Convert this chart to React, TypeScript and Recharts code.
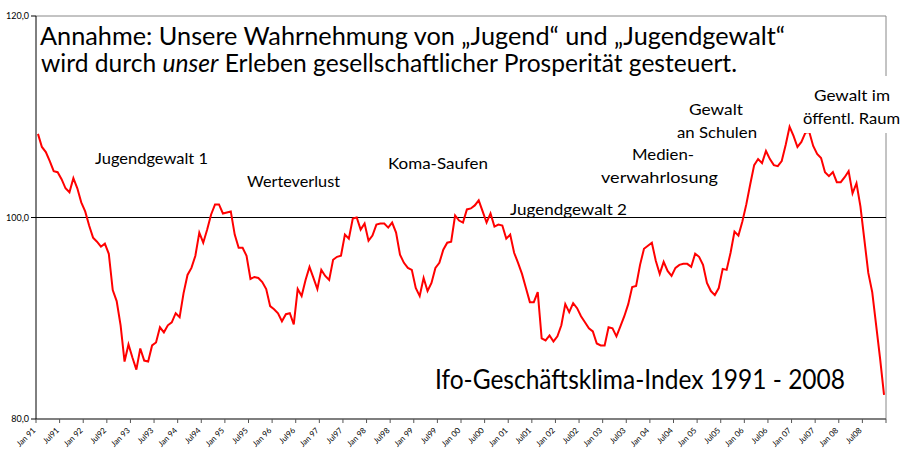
import React from 'react';
import { LineChart, Line, XAxis, YAxis, ReferenceLine } from 'recharts';

// Monthly Ifo business climate index, Jan 1991 - Dec 2008
const values: number[] = [
  108.3, 107.0, 106.5, 105.6, 104.6, 104.5, 103.8, 102.9, 102.5, 103.9, 102.9, 101.5,
  100.6, 99.2, 98.0, 97.6, 97.1, 97.4, 96.4, 92.8, 91.7, 89.3, 85.7, 87.4,
  86.1, 84.9, 87.0, 85.8, 85.7, 87.3, 87.6, 89.1, 88.6, 89.3, 89.6, 90.5,
  90.1, 92.5, 94.3, 95.0, 96.2, 98.5, 97.5, 98.8, 100.3, 101.3, 101.3, 100.4,
  100.5, 100.6, 98.3, 97.0, 97.0, 96.2, 93.9, 94.1, 94.0, 93.6, 92.9, 91.2,
  90.9, 90.5, 89.7, 90.4, 90.5, 89.4, 92.9, 92.2, 93.8, 95.1, 94.0, 92.9,
  94.8, 94.2, 93.8, 95.8, 96.1, 96.2, 98.3, 97.9, 99.9, 100.0, 98.8, 99.4,
  97.7, 98.2, 99.3, 99.4, 99.4, 99.0, 99.5, 98.5, 96.3, 95.5, 95.0, 94.8,
  93.0, 92.2, 94.0, 92.7, 93.5, 95.0, 95.5, 96.8, 97.5, 97.6, 100.2, 99.7,
  99.5, 100.8, 100.9, 101.2, 101.7, 100.6, 99.5, 100.4, 99.1, 99.3, 99.2, 97.9,
  98.3, 96.5, 95.5, 94.4, 93.0, 91.6, 91.6, 92.6, 88.0, 87.8, 88.3, 87.7,
  88.2, 89.3, 91.4, 90.6, 91.5, 91.0, 90.2, 89.6, 89.0, 88.7, 87.5, 87.3,
  87.3, 89.1, 89.0, 88.2, 89.2, 90.2, 91.4, 93.1, 93.2, 95.3, 96.9, 97.2,
  97.5, 95.7, 94.4, 95.6, 94.7, 94.2, 95.0, 95.3, 95.4, 95.4, 95.1, 96.4,
  96.1, 95.3, 93.5, 92.7, 92.3, 93.0, 94.9, 94.8, 96.5, 98.6, 98.2, 99.6,
  101.3, 103.3, 105.2, 105.8, 105.4, 106.6, 105.8, 105.2, 105.1, 105.6, 107.2, 109.0,
  108.1, 107.0, 107.5, 108.4, 108.5, 107.1, 106.3, 105.9, 104.5, 104.1, 104.5, 103.5,
  103.5, 104.0, 104.6, 102.4, 103.4, 101.1, 97.8, 94.5, 92.6, 89.3, 86.0, 82.4,
];

const tickLabels: string[] = [
  'Jan 91', 'Jul91', 'Jan 92', 'Jul92', 'Jan 93', 'Jul93', 'Jan 94', 'Jul94',
  'Jan 95', 'Jul95', 'Jan 96', 'Jul96', 'Jan 97', 'Jul97', 'Jan 98', 'Jul98',
  'Jan 99', 'Jul99', 'Jan 00', 'Jul00', 'Jan 01', 'Jul01', 'Jan 02', 'Jul02',
  'Jan 03', 'Jul03', 'Jan 04', 'Jul04', 'Jan 05', 'Jul05', 'Jan 06', 'Jul06',
  'Jan 07', 'Jul07', 'Jan 08', 'Jul08',
];

const yTicks: number[] = [80, 100, 120];

const data = values.map((v, i) => ({ idx: i, value: v }));
const xTicks = Array.from({ length: tickLabels.length + 1 }, (_, k) => k * 6 - 0.5);

const FONT = 'Lato, "Open Sans", sans-serif';

const XTick = (props: any) => {
  const { x, y, payload } = props;
  const k = Math.round((payload.value + 0.5) / 6);
  const label = tickLabels[k] ?? '';
  return (
    <text
      x={0}
      y={0}
      transform={`translate(${x},${y + 6}) rotate(-45)`}
      textAnchor="end"
      fontSize={8}
      fontFamily={FONT}
      fill="#000"
    >
      {label}
    </text>
  );
};

const T = ({ x, y, w, size = 16, children }: any) => (
  <text
    x={x}
    y={y}
    fontSize={size}
    fontFamily={FONT}
    fill="#000"
    textLength={w}
    lengthAdjust="spacingAndGlyphs"
  >
    {children}
  </text>
);

export default function App() {
  return (
    <div style={{ position: 'absolute', left: 0, top: 0, width: 903, height: 455, background: '#fff' }}>
      <LineChart
        width={903}
        height={455}
        data={data}
        margin={{ top: 16, right: 17, left: 0, bottom: 0 }}
      >
        <XAxis
          dataKey="idx"
          type="number"
          domain={[-0.5, 215.5]}
          ticks={xTicks}
          interval={0}
          height={36}
          tickSize={4}
          tickMargin={2}
          tick={<XTick />}
          axisLine={{ stroke: '#555', strokeWidth: 1.5 }}
          tickLine={{ stroke: '#555' }}
          allowDataOverflow
        />
        <YAxis
          type="number"
          domain={[80, 120]}
          ticks={yTicks}
          width={36}
          tickSize={5}
          tickMargin={2}
          tickFormatter={(v: number) => v.toFixed(1).replace('.', ',')}
          tick={{ fontSize: 9, fontFamily: FONT, fill: '#000' }}
          axisLine={{ stroke: '#000' }}
          tickLine={{ stroke: '#000' }}
        />
        <ReferenceLine y={120} stroke="#888" strokeWidth={1} />
        <ReferenceLine x={215.5} stroke="#888" strokeWidth={1} />
        <ReferenceLine y={100} stroke="#000" strokeWidth={1} />
        <Line
          type="linear"
          dataKey="value"
          stroke="#ff0000"
          strokeWidth={2}
          dot={false}
          isAnimationActive={false}
        />
      </LineChart>
      <svg
        width={903}
        height={455}
        style={{ position: 'absolute', left: 0, top: 0, pointerEvents: 'none' }}
      >
        <rect x={800} y={76} width={103} height={57} fill="#fff" />
        <T x={40} y={45} w={745} size={25}>Annahme: Unsere Wahrnehmung von „Jugend“ und „Jugendgewalt“</T>
        <T x={41} y={72} w={696} size={25}>
          wird durch <tspan fontStyle="italic">unser</tspan> Erleben gesellschaftlicher Prosperität gesteuert.
        </T>
        <T x={435} y={389} w={410} size={26}>Ifo-Geschäftsklima-Index 1991 - 2008</T>
        <T x={95} y={164} w={113}>Jugendgewalt 1</T>
        <T x={247} y={186.5} w={93}>Werteverlust</T>
        <T x={388} y={168.5} w={100}>Koma-Saufen</T>
        <T x={510} y={215} w={117}>Jugendgewalt 2</T>
        <T x={632} y={160} w={62}>Medien-</T>
        <T x={601} y={183} w={117}>verwahrlosung</T>
        <T x={689} y={115} w={54}>Gewalt</T>
        <T x={677} y={138} w={80}>an Schulen</T>
        <T x={814} y={100.5} w={76}>Gewalt im</T>
        <T x={803} y={124} w={97}>öffentl. Raum</T>
      </svg>
    </div>
  );
}
